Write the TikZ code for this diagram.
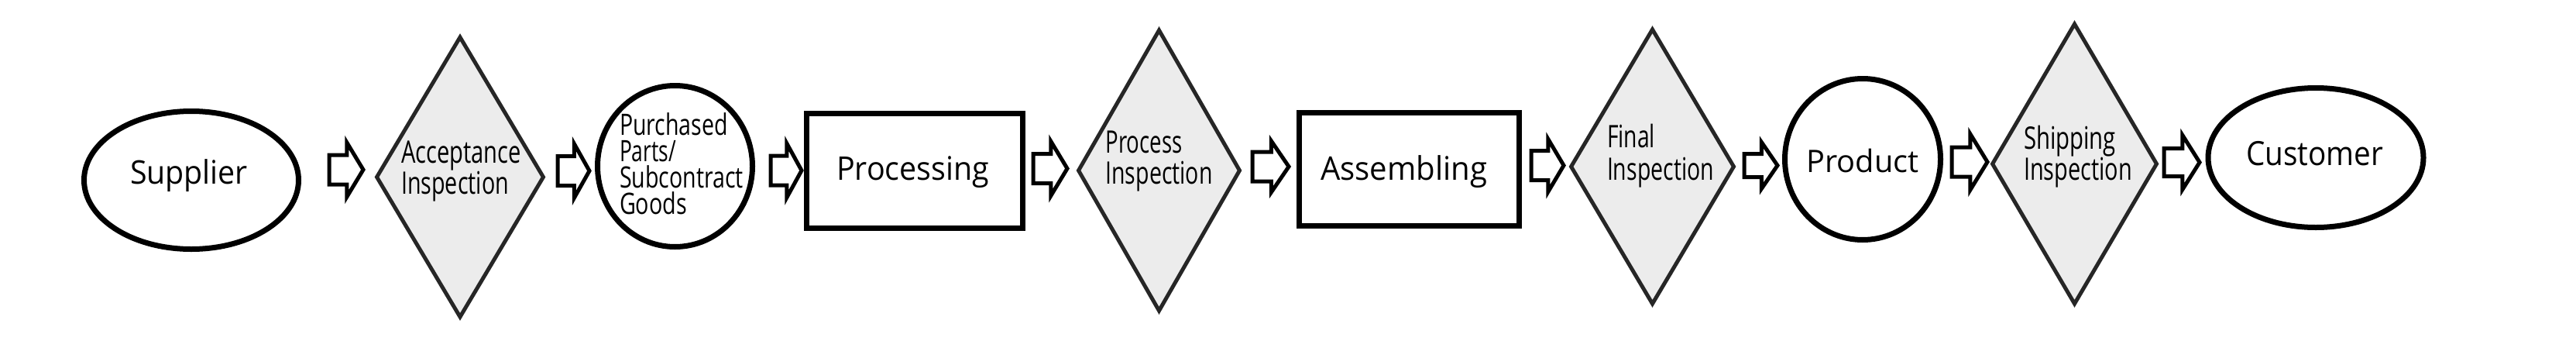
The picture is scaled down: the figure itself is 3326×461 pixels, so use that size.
\documentclass[tikz,border=0pt]{standalone}
\usepackage{fontspec}
\setmainfont{Open Sans}
\usepackage{graphicx}
\usetikzlibrary{shapes.geometric,calc}
\newcommand\fitw[2]{\resizebox{#1pt}{\height}{#2}}
\newcommand\ctext[2]{\makebox[0pt]{\hspace*{#1pt}#2}}
\newcommand\stacklines[2][33pt]{\vbox{\baselineskip=#1\lineskiplimit=-\maxdimen\lineskip=0pt #2}}
\newcommand\flowarrow[4]{%
  \draw[flowarr] ($(#1)+(0,#3pt)$) -- ($(#1)!.52!(#2)+(0,#3pt)$) -- ($(#1)!.52!(#2)+(0,#4pt)$)
    -- (#2) -- ($(#1)!.52!(#2)-(0,#4pt)$) -- ($(#1)!.52!(#2)-(0,#3pt)$) -- ($(#1)-(0,#3pt)$) -- cycle;}
\begin{document}
\begin{tikzpicture}[x=1pt,y=-1pt,
  ovalnode/.style={ellipse, draw=black, line width=7pt, fill=white, inner sep=0pt, text depth=0pt},
  boxnode/.style={rectangle, draw=black, line width=7pt, fill=white, inner sep=0pt, text depth=0pt},
  checknode/.style={diamond, draw=black!85, line width=5pt, fill=gray!15, inner sep=0pt, aspect=0.6, text depth=0pt,
    font=\fontsize{40}{40}\selectfont},
  flowarr/.style={draw=black, line width=5pt, fill=white, line join=miter}]
\useasboundingbox (0,0) rectangle (3326,461);

\node[ovalnode, minimum width=277pt, minimum height=178pt, text height=9pt, font=\fontsize{42}{33}\selectfont]
  (sup) at (247,232.5) {\ctext{-6}{\fitw{152}{Supplier}}};
\node[checknode, minimum width=217pt, minimum height=363pt, text height=43pt]
  (acc) at (594,228.5) {\ctext{3}{\stacklines[40pt]{\hbox{\fitw{155}{Acceptance}}\hbox{\fitw{139}{Inspection}}}}};
\node[ovalnode, minimum width=200pt, minimum height=208pt, text height=123pt, font=\fontsize{38}{33}\selectfont]
  (pur) at (871.5,214.5) {\ctext{17}{\stacklines[34pt]{\hbox{\fitw{140}{Purchased}}\hbox{\fitw{73}{Parts/}}\hbox{\fitw{160}{Subcontract}}\hbox{\fitw{87}{Goods}}}}};
\node[boxnode, minimum width=279pt, minimum height=148pt, text height=23pt, font=\fontsize{42}{33}\selectfont]
  (proc) at (1181,220.5) {\ctext{-5}{\fitw{197}{Processing}}};
\node[checknode, minimum width=210pt, minimum height=364pt, text height=34pt]
  (pin) at (1496.5,220) {\ctext{0}{\stacklines[40pt]{\hbox{\fitw{99}{Process}}\hbox{\fitw{138}{Inspection}}}}};
\node[boxnode, minimum width=284pt, minimum height=146pt, text height=27pt, font=\fontsize{42}{33}\selectfont]
  (asm) at (1819.5,218.5) {\ctext{-14}{\fitw{215}{Assembling}}};
\node[checknode, minimum width=212pt, minimum height=356pt, text height=34pt]
  (fin) at (2133.5,215) {\ctext{21}{\stacklines[42pt]{\hbox{\fitw{62}{Final}}\hbox{\fitw{138}{Inspection}}}}};
\node[ovalnode, minimum width=201pt, minimum height=208pt, text height=33pt, font=\fontsize{40}{33}\selectfont]
  (prod) at (2405,205.5) {\ctext{0}{\fitw{145}{Product}}};
\node[checknode, minimum width=214pt, minimum height=363pt, text height=41pt]
  (ship) at (2678.5,211.5) {\ctext{9}{\stacklines[40pt]{\hbox{\fitw{119}{Shipping}}\hbox{\fitw{140}{Inspection}}}}};
\node[ovalnode, minimum width=278pt, minimum height=180pt, text height=19pt, font=\fontsize{43}{33}\selectfont]
  (cust) at (2990,203.5) {\ctext{-3}{\fitw{177}{Customer}}};

\coordinate (a1s) at (425,219);    \coordinate (a1e) at (469,219);
\coordinate (a2s) at (720,220.5);  \coordinate (a2e) at (761,220.5);
\coordinate (a3s) at (995,220);    \coordinate (a3e) at (1035,220);
\coordinate (a4s) at (1334,217.5); \coordinate (a4e) at (1378,217.5);
\coordinate (a5s) at (1617,215);   \coordinate (a5e) at (1664,215);
\coordinate (a6s) at (1977,213.5); \coordinate (a6e) at (2019,213.5);
\coordinate (a7s) at (2252,213.5); \coordinate (a7e) at (2295,213.5);
\coordinate (a8s) at (2520,209);   \coordinate (a8e) at (2566,209);
\coordinate (a9s) at (2794,209.5); \coordinate (a9e) at (2840,209.5);
\flowarrow{a1s}{a1e}{19}{35}
\flowarrow{a2s}{a2e}{19}{35}
\flowarrow{a3s}{a3e}{19}{35}
\flowarrow{a4s}{a4e}{19}{35}
\flowarrow{a5s}{a5e}{19}{33}
\flowarrow{a6s}{a6e}{19}{34}
\flowarrow{a7s}{a7e}{15}{30}
\flowarrow{a8s}{a8e}{19}{36}
\flowarrow{a9s}{a9e}{18}{35}
\end{tikzpicture}
\end{document}
